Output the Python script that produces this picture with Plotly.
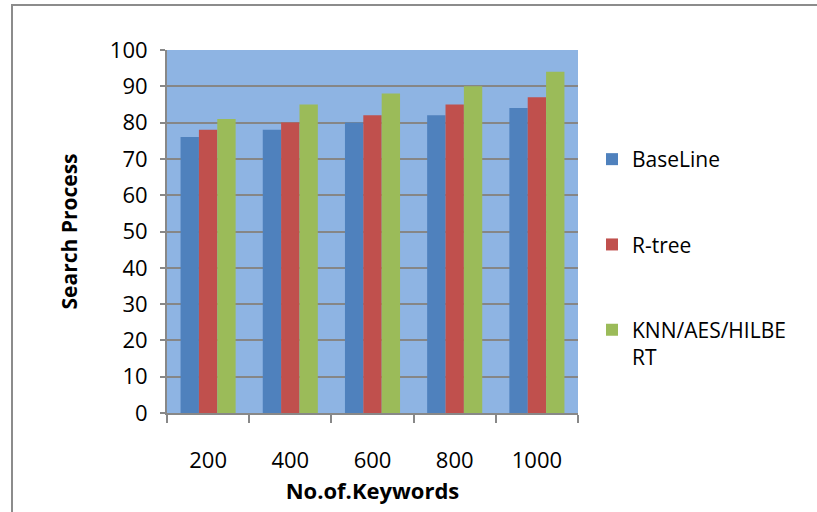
import plotly.graph_objects as go

keywords = ["200", "400", "600", "800", "1000"]
baseline = [76, 78, 80, 82, 84]
rtree = [78, 80, 82, 85, 87]
knn_aes_hilbert = [81, 85, 88, 90, 94]

series_names = ["BaseLine", "R-tree", "KNN/AES/HILBE<br>RT"]
series_colors = ["#4F81BD", "#C0504D", "#9BBB59"]

W, H = 817, 512
L, R, T, B = 167, 239, 50, 99
PW, PH = W - L - R, H - T - B

fig = go.Figure()
for i, (name, vals, col) in enumerate(zip(series_names, [baseline, rtree, knn_aes_hilbert], series_colors)):
    fig.add_trace(go.Bar(
        x=keywords, y=vals, name=name, legendgroup=f"g{i}",
        marker=dict(color=col, line=dict(width=0)),
    ))

font_family = "Open Sans, Noto Sans, sans-serif"

fig.update_layout(
    width=W, height=H,
    margin=dict(l=L, r=R, t=T, b=B),
    paper_bgcolor="white",
    plot_bgcolor="#8EB4E3",
    barmode="group",
    bargap=0.33,
    bargroupgap=0,
    font=dict(family=font_family, color="black"),
    legend=dict(
        x=(592 - L) / PW, xanchor="left",
        y=(H - B - 139) / PH, yanchor="top",
        font=dict(size=21, family=font_family),
        tracegroupgap=55,
        valign="top",
        itemwidth=30,
        bgcolor="rgba(0,0,0,0)",
    ),
    showlegend=True,
)

fig.update_xaxes(
    type="category",
    tickson="boundaries",
    ticks="outside", ticklen=8, tickwidth=2, tickcolor="#888888",
    showline=True, linecolor="#888888", linewidth=2,
    showgrid=False,
    tickfont=dict(size=22),
    ticklabelstandoff=27,
    title=dict(text="<b>No.of.Keywords</b>", font=dict(size=22), standoff=10),
)
fig.update_yaxes(
    range=[0, 100], dtick=10,
    ticks="outside", ticklen=5, tickwidth=2, tickcolor="#888888",
    showline=True, linecolor="#888888", linewidth=2,
    showgrid=True, gridcolor="#868686", gridwidth=2,
    zeroline=False,
    tickfont=dict(size=22),
    ticklabelstandoff=8,
    title=dict(text="<b>Search Process</b>", font=dict(size=21), standoff=26),
)

# Outer chart frame (left and top edges visible)
fig.add_shape(
    type="rect", xref="paper", yref="paper",
    x0=(12 - L) / PW, x1=(W + 20 - L) / PW,
    y0=-(B + 20) / PH, y1=(H - 5 - B) / PH,
    line=dict(color="#8C8C8C", width=2), fillcolor="rgba(0,0,0,0)",
    layer="below",
)

fig.write_html("out.html")
